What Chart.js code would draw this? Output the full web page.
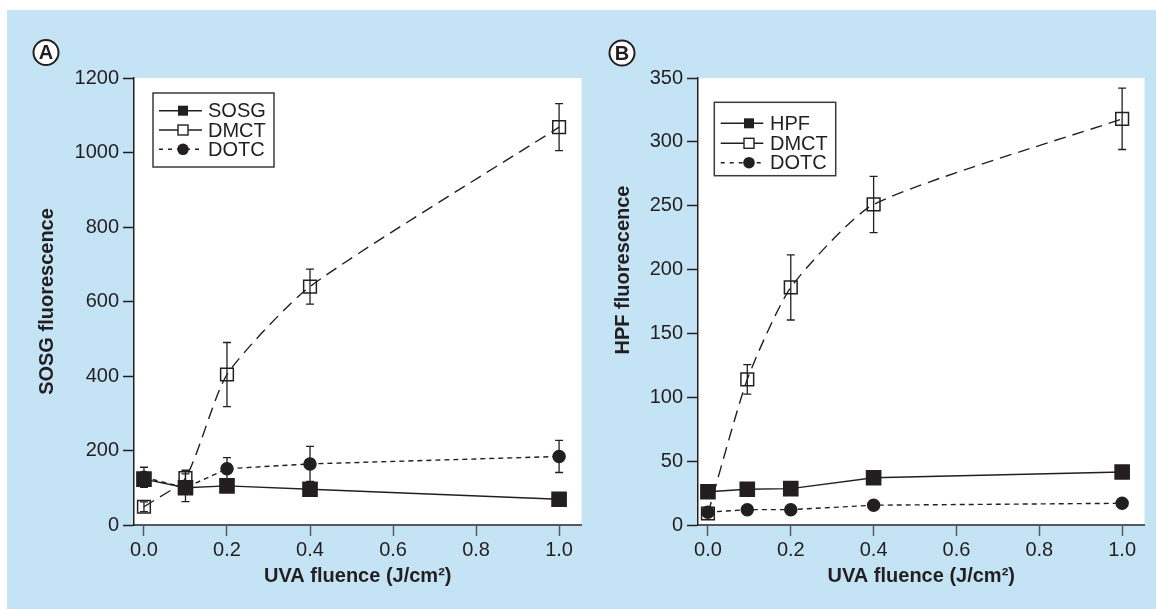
<!DOCTYPE html>
<html>
<head>
<meta charset="utf-8">
<script src="https://cdn.jsdelivr.net/npm/chart.js@4"></script>
<style>
  html, body { margin: 0; padding: 0; background: #fff; }
  #wrap { position: relative; width: 1156px; height: 609px; overflow: hidden; }
  #bg { position: absolute; left: 7px; top: 10px; right: 0; bottom: 0; background: #c4e4f6; }
  canvas { position: absolute; top: 0; }
  #chartA { left: 0; }
  #chartB { left: 595px; }
</style>
</head>
<body>
<div id="wrap">
  <div id="bg"></div>
  <canvas id="chartA" width="595" height="609"></canvas>
  <canvas id="chartB" width="561" height="609"></canvas>
</div>
<script>
// panel A - SOSG
const xA = [0, 0.1, 0.2, 0.4, 1.0];
const sosgA = [123, 100, 105, 96, 69];
const sosgErrA = [10, 8, 8, 8, 6];
const dmctA = [49, 126, 404, 640, 1068];
const dmctErrA = [13, 21, 86, 47, 63];
const dotcA = [128, 100, 151, 164, 184];
const dotcErrA = [27, 37, 30, 47, 43];
const yTicksA = [0, 200, 400, 600, 800, 1000, 1200];

// panel B - HPF
const xB = [0, 0.095, 0.2, 0.4, 1.0];
const hpfB = [26, 28, 28.5, 37, 41.5];
const hpfErrB = [2, 2, 2, 2, 2];
const dmctB = [9, 114, 186, 251, 318];
const dmctErrB = [2, 11.5, 25.5, 22, 24];
const dotcB = [10, 12, 12, 15.5, 17];
const dotcErrB = [1, 1, 1, 1, 1];
const yTicksB = [0, 50, 100, 150, 200, 250, 300, 350];

const xTicks = [0, 0.2, 0.4, 0.6, 0.8, 1.0];

const INK = '#231f20';
const AXIS_GREY = '#58595b';
const FONT = '"Liberation Sans", Arial, Helvetica, sans-serif';

function pts(xs, ys) {
  return xs.map((x, i) => ({ x: x, y: ys[i] }));
}

// one look per marker kind, used for the plot and the legend
const looks = {
  filled: { pointStyle: 'rect', pointRadius: 10, fill: INK, dash: [], legendDash: [], tension: 0 },
  open: { pointStyle: 'rect', pointRadius: 9, fill: 'rgba(0,0,0,0)', dash: [12, 7], legendDash: [], tension: 0.2 },
  dot: { pointStyle: 'circle', pointRadius: 6, fill: INK, dash: [5, 4], legendDash: [4, 5], tension: 0 }
};

function series(label, xs, ys, errs, kind) {
  const lk = looks[kind];
  return {
    label: label,
    data: pts(xs, ys),
    errors: errs,
    kind: kind,
    borderColor: INK,
    borderWidth: 1.4,
    borderDash: lk.dash,
    backgroundColor: lk.fill,
    pointStyle: lk.pointStyle,
    pointRadius: lk.pointRadius,
    pointBackgroundColor: lk.fill,
    pointBorderColor: INK,
    pointBorderWidth: 1.5,
    tension: lk.tension,
    fill: false
  };
}

// white plot area
const plotBg = {
  id: 'plotBg',
  beforeDraw(chart) {
    const { ctx, chartArea: a } = chart;
    ctx.save();
    ctx.fillStyle = '#fff';
    ctx.fillRect(a.left, a.top, a.right - a.left, a.bottom - a.top);
    ctx.restore();
  }
};

// vertical error bars with caps
const errorBars = {
  id: 'errorBars',
  afterDatasetsDraw(chart) {
    const { ctx, scales } = chart;
    ctx.save();
    ctx.strokeStyle = INK;
    ctx.lineWidth = 1.3;
    ctx.setLineDash([]);
    chart.data.datasets.forEach(ds => {
      if (!ds.errors) return;
      ds.data.forEach((p, i) => {
        const e = ds.errors[i];
        const px = scales.x.getPixelForValue(p.x);
        const hi = scales.y.getPixelForValue(p.y + e);
        const lo = scales.y.getPixelForValue(p.y - e);
        ctx.beginPath();
        ctx.moveTo(px, hi); ctx.lineTo(px, lo);
        ctx.moveTo(px - 4, hi); ctx.lineTo(px + 4, hi);
        ctx.moveTo(px - 4, lo); ctx.lineTo(px + 4, lo);
        ctx.stroke();
      });
    });
    ctx.restore();
  }
};

const deco = {
  chartA: { letter: 'A', cx: 46, cy: 52.5, box: [153, 93, 121, 74], rows: [110.7, 130, 149.3],
            lineX: [159, 202], markX: 183, textX: 208, yTitle: 'SOSG fluorescence', tx: 47, ty: 301.5 },
  chartB: { letter: 'B', cx: 27, cy: 53, box: [119.3, 102.3, 121.4, 73.4], rows: [123.3, 143.3, 162.7],
            lineX: [125.7, 168.3], markX: 154, textX: 175, yTitle: 'HPF fluorescence', tx: 28, ty: 270 }
};

function drawMark(ctx, kind, x, y) {
  ctx.setLineDash([]);
  ctx.lineWidth = 1.4;
  ctx.strokeStyle = INK;
  ctx.fillStyle = INK;
  if (kind === 'filled') {
    ctx.fillRect(x - 5, y - 5, 10, 10);
  } else if (kind === 'open') {
    ctx.fillStyle = '#fff';
    ctx.fillRect(x - 5, y - 5, 10, 10);
    ctx.strokeRect(x - 5, y - 5, 10, 10);
  } else {
    ctx.beginPath();
    ctx.arc(x, y, 5.8, 0, Math.PI * 2);
    ctx.fill();
  }
}

// panel letter, legend box and y title
const panelDeco = {
  id: 'panelDeco',
  afterDraw(chart) {
    const c = deco[chart.canvas.id];
    const ctx = chart.ctx;
    ctx.save();

    ctx.beginPath();
    ctx.arc(c.cx, c.cy, 12.5, 0, Math.PI * 2);
    ctx.fillStyle = '#fff';
    ctx.fill();
    ctx.lineWidth = 2;
    ctx.strokeStyle = INK;
    ctx.stroke();
    ctx.fillStyle = INK;
    ctx.font = 'bold 20px ' + FONT;
    ctx.textAlign = 'center';
    ctx.textBaseline = 'middle';
    ctx.fillText(c.letter, c.cx, c.cy + 1);

    const [bx, by, bw, bh] = c.box;
    ctx.fillStyle = '#fff';
    ctx.fillRect(bx, by, bw, bh);
    ctx.lineWidth = 1.5;
    ctx.strokeStyle = '#3a3a3a';
    ctx.strokeRect(bx, by, bw, bh);

    chart.data.datasets.forEach((ds, i) => {
      const y = c.rows[i];
      const lk = looks[ds.kind];
      ctx.beginPath();
      ctx.setLineDash(lk.legendDash);
      ctx.lineWidth = 1.4;
      ctx.strokeStyle = INK;
      ctx.moveTo(c.lineX[0], y);
      ctx.lineTo(c.lineX[1], y);
      ctx.stroke();
      drawMark(ctx, ds.kind, c.markX, y);
      ctx.fillStyle = INK;
      ctx.font = '20px ' + FONT;
      ctx.textAlign = 'left';
      ctx.textBaseline = 'middle';
      ctx.fillText(ds.label, c.textX, y + 1);
    });

    ctx.translate(c.tx, c.ty);
    ctx.rotate(-Math.PI / 2);
    ctx.font = 'bold 20px ' + FONT;
    ctx.textAlign = 'center';
    ctx.textBaseline = 'middle';
    ctx.fillStyle = INK;
    ctx.fillText(c.yTitle, 0, 0);
    ctx.restore();
  }
};

function makeChart(id, datasets, yMax, yTicks, yWidth, rightPad) {
  const ctx = document.getElementById(id).getContext('2d');
  return new Chart(ctx, {
    type: 'line',
    data: { datasets: datasets },
    options: {
      responsive: false,
      animation: false,
      layout: { padding: { top: 78, right: rightPad, bottom: 0, left: 0 } },
      plugins: { legend: { display: false }, tooltip: { enabled: false } },
      scales: {
        x: {
          type: 'linear',
          min: -0.024,
          max: 1.054,
          afterBuildTicks: s => { s.ticks = xTicks.map(v => ({ value: v })); },
          afterFit: s => { s.height = 84; },
          ticks: {
            callback: v => v.toFixed(1),
            font: { family: FONT, size: 20 },
            color: INK,
            padding: 2,
            maxRotation: 0,
            autoSkip: false
          },
          grid: { drawOnChartArea: false, drawTicks: true, tickLength: 11, tickColor: AXIS_GREY, tickWidth: 1.5 },
          border: { color: AXIS_GREY, width: 2 },
          title: {
            display: true,
            text: 'UVA fluence (J/cm²)',
            font: { family: FONT, size: 20, weight: 'bold' },
            color: INK,
            padding: { top: 0, bottom: 21 }
          }
        },
        y: {
          min: 0,
          max: yMax,
          afterBuildTicks: s => { s.ticks = yTicks.map(v => ({ value: v })); },
          afterFit: s => { s.width = yWidth; },
          ticks: {
            callback: v => String(v),
            font: { family: FONT, size: 20 },
            color: INK,
            padding: 4
          },
          grid: { drawOnChartArea: false, drawTicks: true, tickLength: 11, tickColor: INK, tickWidth: 1.5 },
          border: { color: INK, width: 1.5 }
        }
      }
    },
    plugins: [plotBg, errorBars, panelDeco]
  });
}

makeChart('chartA', [
  series('SOSG', xA, sosgA, sosgErrA, 'filled'),
  series('DMCT', xA, dmctA, dmctErrA, 'open'),
  series('DOTC', xA, dotcA, dotcErrA, 'dot')
], 1200, yTicksA, 134, 13.5);

makeChart('chartB', [
  series('HPF', xB, hpfB, hpfErrB, 'filled'),
  series('DMCT', xB, dmctB, dmctErrB, 'open'),
  series('DOTC', xB, dotcB, dotcErrB, 'dot')
], 350, yTicksB, 103, 10);
</script>
</body>
</html>
